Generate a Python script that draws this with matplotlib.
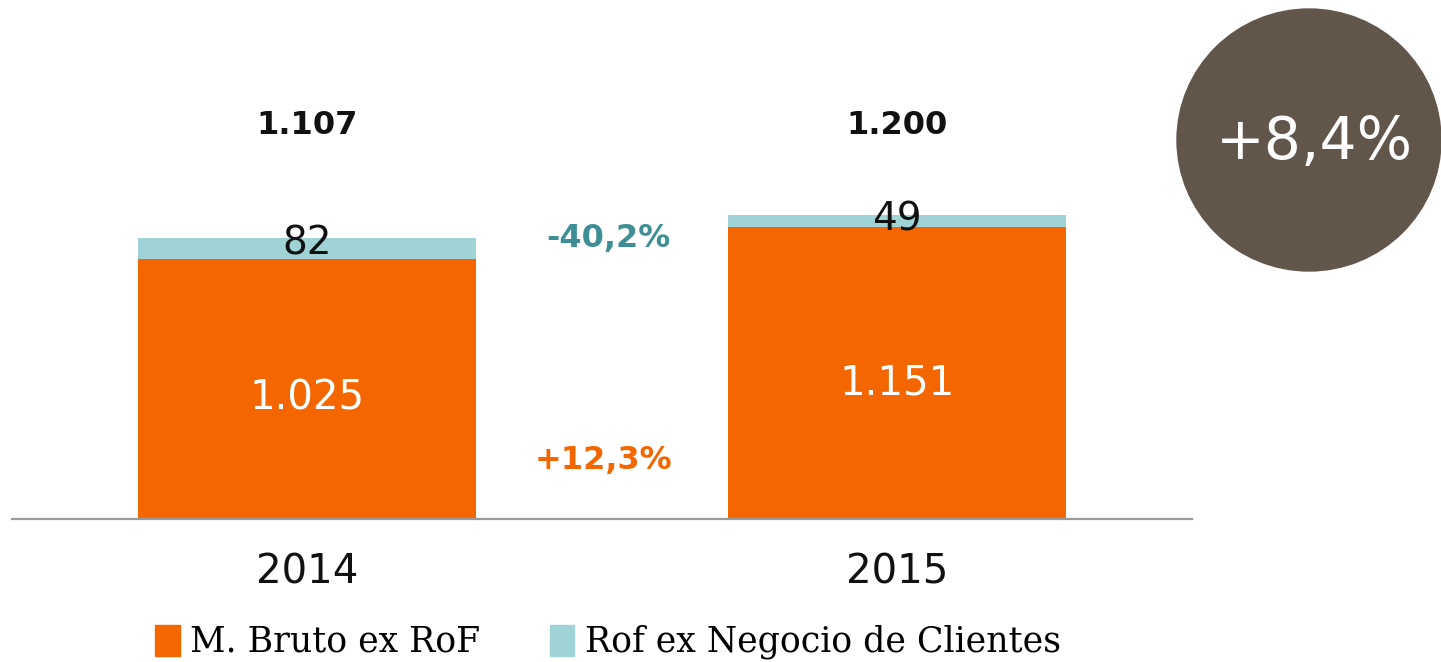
import matplotlib
matplotlib.use("Agg")
import matplotlib.pyplot as plt
from matplotlib.patches import Ellipse, Patch

years = ["2014", "2015"]
margen_bruto = [1025, 1151]
rof_clientes = [82, 49]
totales = ["1.107", "1.200"]
margen_labels = ["1.025", "1.151"]
rof_labels = ["82", "49"]
var_rof = "-40,2%"
var_margen = "+12,3%"
var_total = "+8,4%"
series_names = ["M. Bruto ex RoF", "Rof ex Negocio de Clientes"]

ORANGE = "#F46700"
TEAL = "#9FD3D6"
TEAL_DARK = "#3E8F95"
BROWN = "#62554A"

W, H = 1441, 662
fig = plt.figure(figsize=(W / 100, H / 100), dpi=100)
base_px = 519
ax = fig.add_axes([12 / W, (H - base_px) / H, (1192 - 12) / W, base_px / H])
px_per_unit = 0.2535
ax.set_xlim(-0.5, 1.5)
ax.set_ylim(0, base_px / px_per_unit)

x = list(range(len(years)))
ax.bar(x, margen_bruto, width=0.572, color=ORANGE, zorder=2)
ax.bar(x, rof_clientes, width=0.572, bottom=margen_bruto, color=TEAL, zorder=2)

for spine in ["top", "right", "left"]:
    ax.spines[spine].set_visible(False)
ax.spines["bottom"].set_color("#9a9a9a")
ax.spines["bottom"].set_linewidth(1.6)
ax.set_yticks([])
ax.set_xticks(x)
ax.set_xticklabels(years, fontsize=29, color="#111111")
ax.tick_params(axis="x", length=0, pad=24)

for i in x:
    m = margen_bruto[i]
    r = rof_clientes[i]
    tot = m + r
    ax.text(i, m * 0.465, margen_labels[i], ha="center", va="center",
            color="white", fontsize=29, zorder=3)
    ax.text(i, tot - 20, rof_labels[i], ha="center", va="center",
            color="#111111", fontsize=28, zorder=3)
    ax.text(i, 1551, totales[i], ha="center", va="center",
            color="#111111", fontsize=23, fontweight="bold", zorder=3)

ax.text(0.51, (base_px - 238) / px_per_unit, var_rof, ha="center", va="center",
        color=TEAL_DARK, fontsize=23, fontweight="bold")
ax.text(0.503, (base_px - 460) / px_per_unit, var_margen, ha="center", va="center",
        color=ORANGE, fontsize=23, fontweight="bold")

# circle badge in figure pixel space
bax = fig.add_axes([0, 0, 1, 1])
bax.set_xlim(0, W)
bax.set_ylim(H, 0)
bax.axis("off")
bax.add_patch(Ellipse((1309, 140), 264, 262, color=BROWN))
bax.text(1314, 142, var_total, ha="center", va="center", color="white", fontsize=42)

handles = [Patch(color=ORANGE), Patch(color=TEAL)]
fig.legend(handles, series_names, loc="center", bbox_to_anchor=(608 / W, (H - 642) / H),
           ncol=2, frameon=False, handlelength=0.7, handleheight=1.0, handletextpad=0.3,
           columnspacing=2.0, prop={"family": "DejaVu Serif", "size": 25})

fig.savefig("out.png", dpi=100)
